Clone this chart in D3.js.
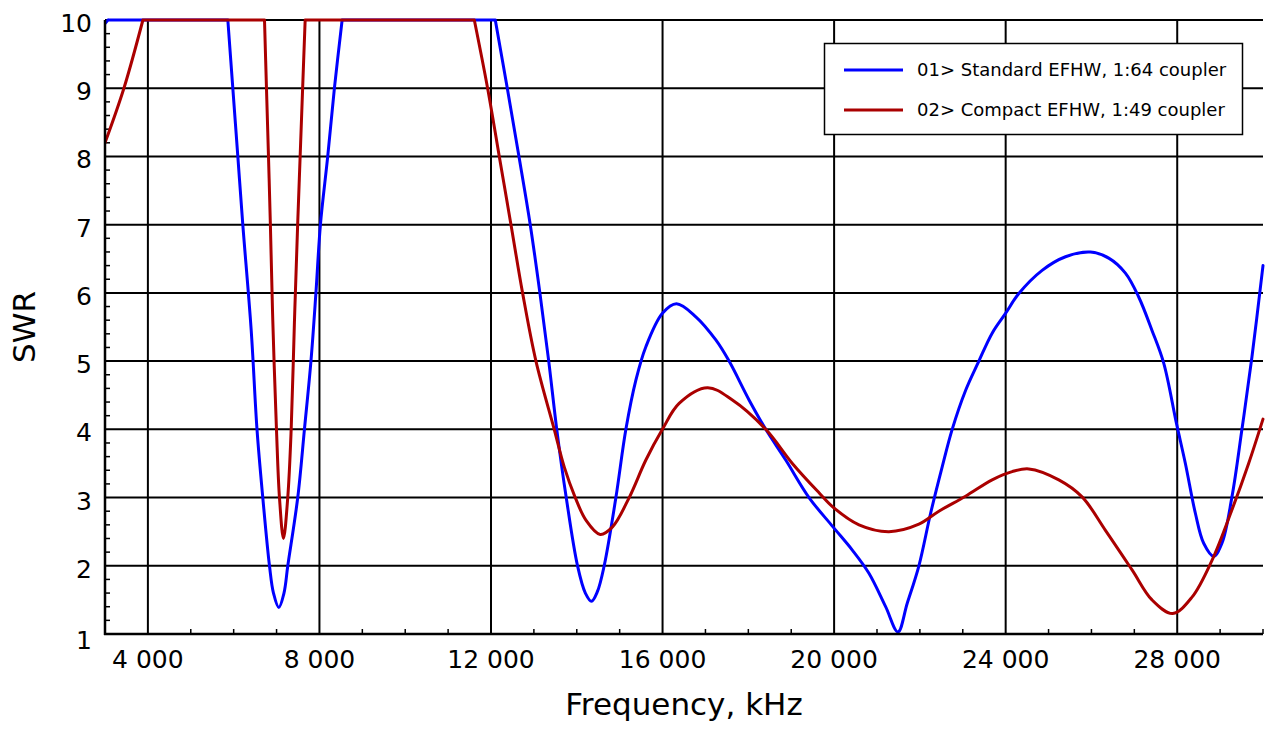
<!DOCTYPE html>
<html>
<head>
<meta charset="utf-8">
<script src="https://cdn.jsdelivr.net/npm/d3@7"></script>
<style>
  html, body { margin: 0; padding: 0; background: #fff; }
  svg { display: block; font-family: "DejaVu Sans", Verdana, sans-serif; }
</style>
</head>
<body>
<svg id="chart" width="1266" height="729"></svg>
<script>
// ---- Data (frequency in kHz, SWR; the chart clips values at 10) ----
const seriesNames = ["01> Standard EFHW, 1:64 coupler", "02> Compact EFHW, 1:49 coupler"];
const seriesColors = ["#0000ff", "#aa0000"];

const stdFreq = [3000, 3070, 5864, 5980, 6097, 6213, 6409, 6544, 6679, 6835, 6928, 7052, 7173, 7262, 7494, 7650,
  7802, 7918, 8023, 8193, 8349, 8529, 12100, 12380, 12652, 12915, 13140, 13346, 13533, 13754, 14017, 14200, 14343, 14480,
  14639, 14912, 15145, 15378, 15611, 15997, 16324, 16776, 17242, 17551, 18017, 18406, 18872, 19415, 19974,
  20424, 20812, 21201, 21488, 21705, 21977, 22250, 22520, 22753, 23065, 23375, 23685, 23997, 24307, 24850,
  25395, 25977, 26403, 26792, 27102, 27412, 27685, 27981, 28190, 28423, 28617, 28850, 29043, 29276, 29509,
  29742, 30000];
const stdSWR = [9.95, 10, 10, 9, 8, 7, 5.45, 4, 3, 2, 1.6, 1.39, 1.6, 2, 3, 4,
  5, 6, 7, 8, 9, 10, 10, 9, 8, 7, 6, 5, 4, 3, 2, 1.6, 1.48, 1.62,
  2, 3, 4, 4.72, 5.21, 5.70, 5.84, 5.65, 5.31, 5.00, 4.43, 4.00, 3.55, 3.00, 2.57,
  2.23, 1.89, 1.40, 1.03, 1.45, 2.00, 2.77, 3.45, 4.00, 4.57, 5.00, 5.41, 5.70, 5.99, 6.33,
  6.53, 6.60, 6.51, 6.29, 5.94, 5.45, 4.97, 4.09, 3.50, 2.77, 2.33, 2.14, 2.33, 3.01, 4.00,
  5.06, 6.40];

const cmpFreq = [3000, 3441, 3884, 6719, 6765, 6812, 6856, 6912, 6998, 7068, 7161, 7261, 7341, 7418, 7492, 7550,
  7608, 7667, 11611, 11921, 12193, 12466, 12736, 13048, 13474, 13707, 13964, 14213, 14546, 14833, 15222, 15611,
  15997, 16386, 17046, 17628, 18406, 19026, 19648, 19974, 20580, 21279, 21977, 22443, 23065, 23685, 24151,
  24540, 25239, 25782, 26326, 26947, 27412, 27895, 28345, 28811, 29276, 29665, 30000];
const cmpSWR = [8.2, 9.0, 10, 10, 9, 8, 7, 5.6, 4, 3, 2.40, 3, 4, 5.6, 7, 8,
  9, 10, 10, 9, 8, 7, 6, 5, 4, 3.45, 3.0, 2.67, 2.46, 2.57, 3.00, 3.55,
  4.00, 4.38, 4.61, 4.43, 4.00, 3.50, 3.07, 2.86, 2.60, 2.50, 2.61, 2.80, 3.02, 3.26, 3.38,
  3.42, 3.26, 3.01, 2.52, 1.94, 1.50, 1.30, 1.54, 2.08, 2.82, 3.50, 4.15];

const xTicks = [4000, 8000, 12000, 16000, 20000, 24000, 28000];
const xMinorTicks = d3.range(4000, 30001, 1000);
const yTicks = [1, 2, 3, 4, 5, 6, 7, 8, 9, 10];
const yMinorTicks = d3.range(1, 10.001, 0.2);
const xTitle = "Frequency, kHz";
const yTitle = "SWR";

// ---- Layout ----
const L = 105, R = 1263, T = 20, B = 634;
const svg = d3.select("#chart");
const x = d3.scaleLinear().domain([3000, 30000]).range([L, R]);
const y = d3.scaleLinear().domain([1, 10]).range([B, T]);
const fmt = d3.formatLocale({ decimal: ".", thousands: "\u00a0", grouping: [3], currency: ["", ""] }).format(",d");

// grid
svg.append("g").selectAll("line").data(yTicks.filter(d => d > 1)).join("line")
  .attr("x1", L).attr("x2", R).attr("y1", d => y(d)).attr("y2", d => y(d))
  .attr("stroke", "#000").attr("stroke-width", 2);
svg.append("g").selectAll("line").data(xTicks).join("line")
  .attr("x1", d => x(d)).attr("x2", d => x(d)).attr("y1", T).attr("y2", B)
  .attr("stroke", "#000").attr("stroke-width", 2);

// minor ticks
svg.append("g").selectAll("line").data(yMinorTicks.filter(d => Math.abs(d - Math.round(d)) > 0.01)).join("line")
  .attr("x1", L).attr("x2", L + 5).attr("y1", d => y(d)).attr("y2", d => y(d))
  .attr("stroke", "#000").attr("stroke-width", 1.5);
svg.append("g").selectAll("line").data(xMinorTicks.filter(d => d % 4000 !== 0)).join("line")
  .attr("x1", d => x(d)).attr("x2", d => x(d)).attr("y1", B).attr("y2", B - 5)
  .attr("stroke", "#000").attr("stroke-width", 1.5);

// curves: split each series into clipped plateaus (straight) and smooth runs
function splitRuns(pts) {
  const runs = [];
  let cur = [pts[0]];
  for (let i = 1; i < pts.length; i++) {
    if (pts[i - 1][1] >= 10 && pts[i][1] >= 10) {
      if (cur.length > 1) runs.push({ flat: false, pts: cur });
      runs.push({ flat: true, pts: [pts[i - 1], pts[i]] });
      cur = [pts[i]];
    } else {
      cur.push(pts[i]);
    }
  }
  if (cur.length > 1) runs.push({ flat: false, pts: cur });
  return runs;
}
svg.append("defs").append("clipPath").attr("id", "clip")
  .append("rect").attr("x", L).attr("y", T - 2).attr("width", R - L + 3).attr("height", B - T + 2);
const smooth = d3.line().x(d => x(d[0])).y(d => y(d[1])).curve(d3.curveCatmullRom.alpha(0.5));
const straight = d3.line().x(d => x(d[0])).y(d => y(d[1]));
const series = [d3.zip(stdFreq, stdSWR), d3.zip(cmpFreq, cmpSWR)];
const plot = svg.append("g").attr("clip-path", "url(#clip)");
series.forEach((s, i) => {
  const d = splitRuns(s).map(r => (r.flat ? straight : smooth)(r.pts)).join("");
  plot.append("path").attr("d", d).attr("fill", "none")
    .attr("stroke", seriesColors[i]).attr("stroke-width", 3)
    .attr("stroke-linejoin", "round").attr("stroke-linecap", "round");
});

// axis lines
svg.append("line").attr("x1", L).attr("x2", L).attr("y1", T).attr("y2", B + 1).attr("stroke", "#000").attr("stroke-width", 2.5);
svg.append("line").attr("x1", L - 1).attr("x2", R).attr("y1", B).attr("y2", B).attr("stroke", "#000").attr("stroke-width", 2.5);

// tick labels
svg.append("g").selectAll("text").data(yTicks).join("text")
  .attr("x", 92).attr("y", d => y(d) + (d === 1 ? 6 : 3)).attr("dy", "0.36em")
  .attr("text-anchor", "end").attr("font-size", 25).attr("fill", "#000")
  .text(d => d);
svg.append("g").selectAll("text").data(xTicks).join("text")
  .attr("x", d => x(d)).attr("y", 668)
  .attr("text-anchor", "middle").attr("font-size", 25).attr("fill", "#000")
  .text(d => fmt(d));

// titles
svg.append("text").attr("x", (L + R) / 2).attr("y", 715).attr("text-anchor", "middle")
  .attr("font-size", 31).attr("fill", "#000").text(xTitle);
svg.append("text").attr("transform", `translate(35,${(T + B) / 2}) rotate(-90)`).attr("text-anchor", "middle")
  .attr("font-size", 31).attr("fill", "#000").text(yTitle);

// legend
const lg = svg.append("g");
lg.append("rect").attr("x", 824.5).attr("y", 43.5).attr("width", 418).attr("height", 91)
  .attr("fill", "#fff").attr("stroke", "#000").attr("stroke-width", 1.5);
const items = lg.selectAll("g.item").data(seriesNames).join("g").attr("class", "item")
  .attr("transform", (d, i) => `translate(0,${70 + i * 40})`);
items.append("line").attr("x1", 844).attr("x2", 903).attr("y1", 0).attr("y2", 0)
  .attr("stroke", (d, i) => seriesColors[i]).attr("stroke-width", 3);
items.append("text").attr("x", 917).attr("y", 0).attr("dy", "0.36em").attr("font-size", 18)
  .attr("fill", "#000").text(d => d);
</script>
</body>
</html>
